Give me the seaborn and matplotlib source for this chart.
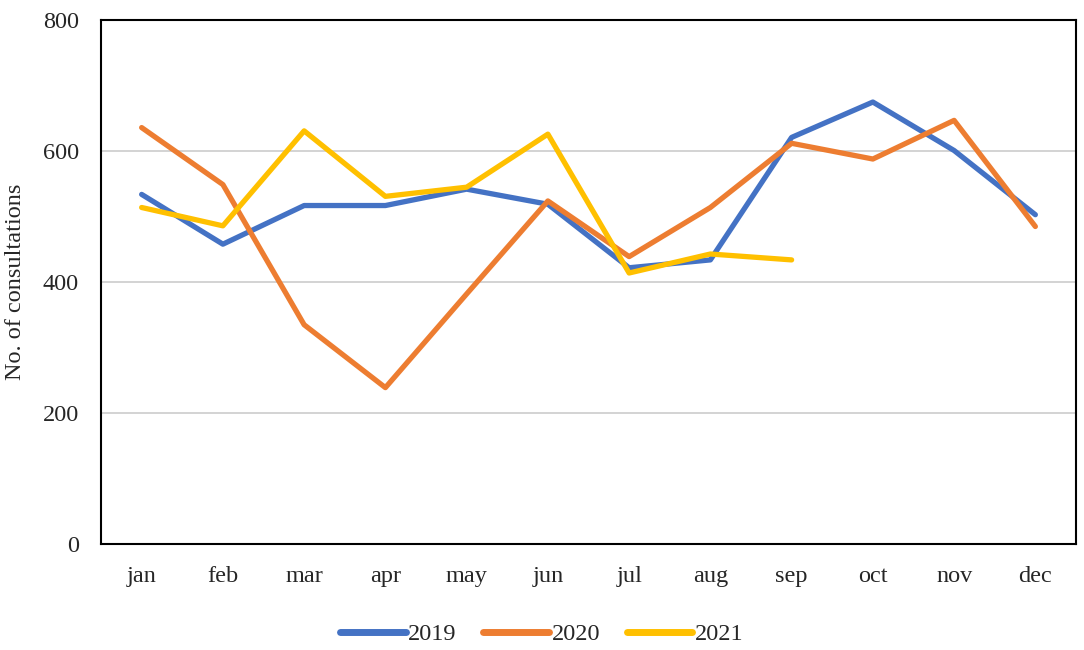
import numpy as np
import pandas as pd
import matplotlib.pyplot as plt
import seaborn as sns

months = ['jan', 'feb', 'mar', 'apr', 'may', 'jun', 'jul', 'aug', 'sep', 'oct', 'nov', 'dec']
y2019 = [533, 457, 516, 516, 541, 518, 421, 433, 620, 674, 600, 502]
y2020 = [635, 548, 334, 238, 381, 523, 438, 513, 611, 587, 646, 484]
y2021 = [513, 485, 630, 530, 544, 625, 413, 442, 433]
years = ['2019', '2020', '2021']
colors = ['#4472C4', '#ED7D31', '#FFC000']

rows = []
for yr, vals in zip(years, [y2019, y2020, y2021]):
    for i, v in enumerate(vals):
        rows.append({'month': i, 'year': yr, 'value': v})
df = pd.DataFrame(rows)

sns.set_style('white')
plt.rcParams['font.family'] = ['Liberation Serif', 'DejaVu Serif']

fig = plt.figure(figsize=(10.84, 6.5), dpi=100)
ax = fig.add_axes([0.0932, 0.1638, 0.8994, 0.8062])

sns.lineplot(data=df, x='month', y='value', hue='year', palette=colors,
             linewidth=3.8, ax=ax, legend=True, solid_capstyle='round')

ax.set_xlim(-0.5, 11.5)
ax.set_ylim(0, 800)
ax.set_yticks([0, 200, 400, 600, 800])
ax.set_xticks(range(12))
ax.set_xticklabels(months)
ax.tick_params(axis='both', length=0, labelsize=17.5)
ax.tick_params(axis='x', pad=16)
ax.tick_params(axis='y', pad=16)
ax.yaxis.grid(True, color='#d0d0d0', linewidth=1.3)
ax.set_axisbelow(True)
for s in ax.spines.values():
    s.set_color('black')
    s.set_linewidth(1.5)
ax.set_xlabel('')
ax.set_ylabel('No. of consultations', fontsize=17.5, labelpad=12)

handles, labels = ax.get_legend_handles_labels()
for h in handles:
    h.set_linewidth(5)
ax.legend(handles, labels, loc='center', bbox_to_anchor=(0.452, -0.173),
          ncol=3, frameon=False, fontsize=17.5, handlelength=2.7,
          handletextpad=0.1, columnspacing=1.1)

fig.savefig('out.png', dpi=100)
